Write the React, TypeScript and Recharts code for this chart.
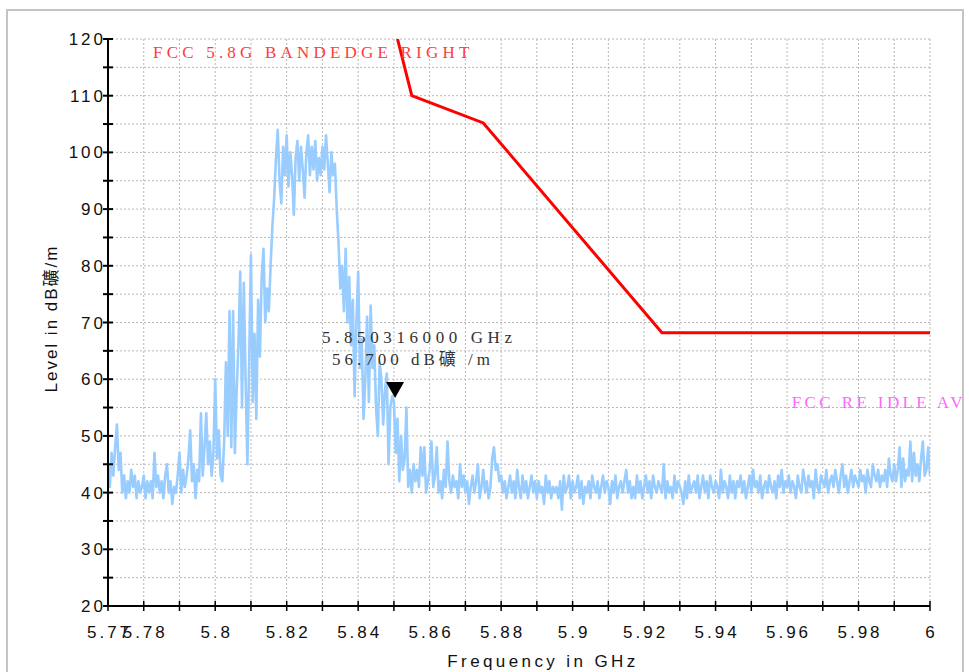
import React from 'react';
import { LineChart, Line, XAxis, YAxis, CartesianGrid, ReferenceDot } from 'recharts';

// Spectrum sweep: uniform 0.5 MHz steps from 5.770 GHz
const traceStartGHz = 5.77;
const traceStepGHz = 0.0005;
const traceLevels = [
  45, 41, 47, 43, 48, 52, 44, 47, 40, 43,
  39, 42, 40, 44, 41, 43, 39, 42, 40, 41,
  43, 39, 42, 40, 42, 39, 47, 41, 43, 40,
  42, 39, 43, 45, 40, 42, 38, 41, 40, 43,
  47, 40, 44, 41, 43, 46, 51, 42, 45, 39,
  44, 42, 54, 43, 48, 54, 45, 49, 43, 47,
  60, 46, 51, 43, 42, 49, 63, 50, 72, 48,
  72, 47, 58, 66, 79, 55, 77, 60, 45, 63,
  82, 56, 68, 53, 74, 64, 78, 83, 70, 76,
  72, 80, 87, 92, 99, 104, 95, 91, 101, 96,
  103, 94, 100, 96, 89, 99, 102, 95, 101, 97,
  92, 100, 103, 96, 101, 97, 102, 95, 99, 96,
  101, 97, 103, 98, 93, 100, 96, 98, 90, 84,
  76, 80, 72, 83, 70, 78, 66, 74, 57, 70,
  79, 62, 67, 53, 60, 71, 56, 73, 62, 66,
  55, 50, 63, 60, 52, 58, 61, 45, 55, 57,
  56, 47, 53, 42, 50, 44, 46, 55, 41, 44,
  40, 45, 42, 44, 41, 48, 43, 48, 40, 42,
  44, 49, 41, 43, 48, 40, 42, 39, 44, 41,
  49, 42, 40, 43, 41, 42, 39, 45, 41, 43,
  40, 42, 38, 41, 43, 40, 42, 45, 39, 41,
  44, 40, 42, 39, 41, 46, 48, 44, 45, 42,
  43, 40, 42, 39, 41, 43, 40, 42, 39, 44,
  41, 39, 43, 40, 42, 39, 41, 43, 40, 42,
  39, 42, 40, 41, 38, 43, 40, 42, 39, 41,
  40, 41, 39, 42, 37, 43, 40, 41, 43, 39,
  42, 40, 41, 43, 39, 42, 38, 41, 40, 42,
  39, 43, 41, 40, 42, 39, 41, 43, 40, 42,
  41, 38, 42, 40, 43, 39, 41, 42, 40, 42,
  44, 40, 42, 39, 41, 39, 43, 40, 42, 39,
  41, 43, 40, 42, 39, 43, 41, 40, 42, 41,
  40, 45, 39, 42, 40, 41, 39, 43, 40, 42,
  41, 40, 38, 42, 39, 43, 40, 41, 42, 40,
  43, 39, 41, 43, 40, 42, 39, 43, 41, 40,
  42, 41, 39, 44, 40, 42, 41, 39, 43, 40,
  42, 39, 42, 41, 43, 40, 42, 39, 41, 43,
  40, 44, 41, 42, 40, 43, 39, 41, 42, 40,
  43, 41, 40, 42, 39, 43, 41, 44, 40, 42,
  41, 43, 40, 42, 41, 39, 43, 41, 40, 44,
  42, 40, 43, 41, 42, 39, 44, 41, 40, 43,
  42, 41, 44, 40, 42, 43, 41, 44, 42, 40,
  43, 45, 41, 43, 40, 42, 44, 41, 43, 42,
  41, 44, 42, 43, 40, 44, 42, 41, 45, 43,
  42, 44, 41, 43, 42, 44, 41, 46, 43, 42,
  45, 42, 44, 48, 41, 46, 42, 44, 43, 49,
  42, 47, 43, 45, 42, 46, 49, 43, 44, 48,
  43,
];

// FCC 5.8G band-edge limit line
const limitFreqs = [5.851, 5.855, 5.875, 5.925, 6.0];
const limitLevels = [120, 110, 105.2, 68.2, 68.2];

// Axes
const xTicks = [5.77, 5.78, 5.79, 5.8, 5.81, 5.82, 5.83, 5.84, 5.85, 5.86, 5.87, 5.88, 5.89, 5.9, 5.91, 5.92, 5.93, 5.94, 5.95, 5.96, 5.97, 5.98, 5.99, 6.0];
const xTickLabels = ['5.77', '5.78', '', '5.8', '', '5.82', '', '5.84', '', '5.86', '', '5.88', '', '5.9', '', '5.92', '', '5.94', '', '5.96', '', '5.98', '', '6'];
const yTicks = [20, 25, 30, 35, 40, 45, 50, 55, 60, 65, 70, 75, 80, 85, 90, 95, 100, 105, 110, 115, 120];
const yTickLabels = ['20', '', '30', '', '40', '', '50', '', '60', '', '70', '', '80', '', '90', '', '100', '', '110', '', '120'];

// Marker
const markerFreq = 5.850316;
const markerLevel = 56.7;
const markerLines = ['5.850316000 GHz', '56.700 dB礦 /m'];

// Annotations
const limitLabel = 'FCC 5.8G BANDEDGE RIGHT';
const limitLabelFreq = 5.7826;
const limitLabelLevel = 116.7;
const avLabel = 'FCC RE IDLE AV';
const avLabelFreq = 5.9613;
const avLabelLevel = 54.9;

const xTitle = 'Frequency in GHz';
const yTitle = 'Level in dB礦/m';

const traceData = traceLevels.map((v, i) => ({
  f: Number((traceStartGHz + i * traceStepGHz).toFixed(4)),
  level: v,
}));
const limitData = limitFreqs.map((f, i) => ({ f, level: limitLevels[i] }));

const SANS = '"Liberation Sans", Arial, "Noto Sans CJK SC", sans-serif';
const SERIF = '"Liberation Serif", "Times New Roman", "Noto Sans CJK SC", serif';

const XTick = (props: any) => {
  const { x, y, payload } = props;
  const idx = xTicks.findIndex((t) => Math.abs(t - payload.value) < 1e-6);
  const label = idx >= 0 ? xTickLabels[idx] : '';
  return (
    <g>
      <line x1={x} x2={x} y1={y - 10} y2={y} stroke="#000" strokeWidth={1.5} />
      {label ? (
        <text x={x + 1.5} y={y + 27} textAnchor="middle" fontFamily={SANS} fontSize={17} letterSpacing={3} fill="#111">
          {label}
        </text>
      ) : null}
    </g>
  );
};

const YTick = (props: any) => {
  const { x, y, payload } = props;
  const idx = yTicks.findIndex((t) => Math.abs(t - payload.value) < 1e-6);
  const label = idx >= 0 ? yTickLabels[idx] : '';
  return (
    <g>
      <line x1={x} x2={x + 10} y1={y} y2={y} stroke="#000" strokeWidth={2} />
      {label ? (
        <text x={x + 3} y={y + 6} textAnchor="end" fontFamily={SANS} fontSize={17} letterSpacing={3} fill="#111">
          {label}
        </text>
      ) : null}
    </g>
  );
};

const MarkerShape = (props: any) => {
  const { cx, cy } = props;
  return (
    <g>
      <polygon points={`${cx - 9},${cy - 16} ${cx + 9},${cy - 16} ${cx},${cy}`} fill="#000" />
      <text x={cx - 73} y={cy - 55} fontFamily={SERIF} fontSize={17} letterSpacing={4.6} fill="#333">
        {markerLines[0]}
      </text>
      <text x={cx - 63} y={cy - 33} fontFamily={SERIF} fontSize={17} letterSpacing={4} fill="#333">
        {markerLines[1]}
      </text>
    </g>
  );
};

const makeLabelShape = (text: string, color: string, spacing: number) => (props: any) => {
  const { cx, cy } = props;
  return (
    <text x={cx} y={cy} fontFamily={SERIF} fontSize={17} letterSpacing={spacing} fill={color}>
      {text}
    </text>
  );
};

const XTitle = (props: any) => {
  const vb = props.viewBox || {};
  return (
    <text x={vb.x + vb.width / 2 + 24} y={vb.y + 61} textAnchor="middle" fontFamily={SANS} fontSize={17} letterSpacing={3.4} fill="#111">
      {xTitle}
    </text>
  );
};

const YTitle = (props: any) => {
  const vb = props.viewBox || {};
  const cx = 57;
  const cy = vb.y + vb.height / 2 - 4;
  return (
    <text x={cx} y={cy} transform={`rotate(-90, ${cx}, ${cy})`} textAnchor="middle" fontFamily={SANS} fontSize={17} letterSpacing={2} fill="#111">
      {yTitle}
    </text>
  );
};

export default function App() {
  return (
    <div style={{ position: 'absolute', left: 0, top: 0, width: 969, height: 672, background: '#fff', overflow: 'hidden' }}>
      <div style={{ position: 'absolute', left: 6, top: 9, width: 958, height: 700, border: '2px solid #c4c4c4', boxSizing: 'border-box' }} />
      <div style={{ position: 'absolute', left: 0, top: 0 }}>
        <LineChart width={969} height={672} margin={{ top: 39, right: 39, bottom: 0, left: 0 }}>
          <CartesianGrid stroke="#b8b8b8" strokeDasharray="2 2" strokeWidth={1} />
          <XAxis
            dataKey="f"
            type="number"
            domain={[5.77, 6]}
            ticks={xTicks}
            interval={0}
            allowDataOverflow
            height={66}
            tickSize={5}
            tickMargin={0}
            tickLine={false}
            axisLine={{ stroke: '#000', strokeWidth: 2 }}
            tick={<XTick />}
            label={<XTitle />}
          />
          <YAxis
            type="number"
            domain={[20, 120]}
            ticks={yTicks}
            interval={0}
            allowDataOverflow
            width={108}
            tickSize={5}
            tickMargin={0}
            tickLine={false}
            axisLine={{ stroke: '#000', strokeWidth: 2 }}
            tick={<YTick />}
            label={<YTitle />}
          />
          <Line
            data={traceData}
            dataKey="level"
            type="linear"
            stroke="#99ccff"
            strokeWidth={2.6}
            strokeLinejoin="round"
            dot={false}
            activeDot={false}
            isAnimationActive={false}
          />
          <Line
            data={limitData}
            dataKey="level"
            type="linear"
            stroke="#ff0000"
            strokeWidth={3}
            dot={false}
            activeDot={false}
            isAnimationActive={false}
          />
          <ReferenceDot x={markerFreq} y={markerLevel} ifOverflow="visible" shape={MarkerShape} />
          <ReferenceDot
            x={limitLabelFreq}
            y={limitLabelLevel}
            ifOverflow="visible"
            shape={makeLabelShape(limitLabel, '#ff3b3b', 4.2)}
          />
          <ReferenceDot
            x={avLabelFreq}
            y={avLabelLevel}
            ifOverflow="visible"
            shape={makeLabelShape(avLabel, '#ff66ff', 3.4)}
          />
        </LineChart>
      </div>
    </div>
  );
}
